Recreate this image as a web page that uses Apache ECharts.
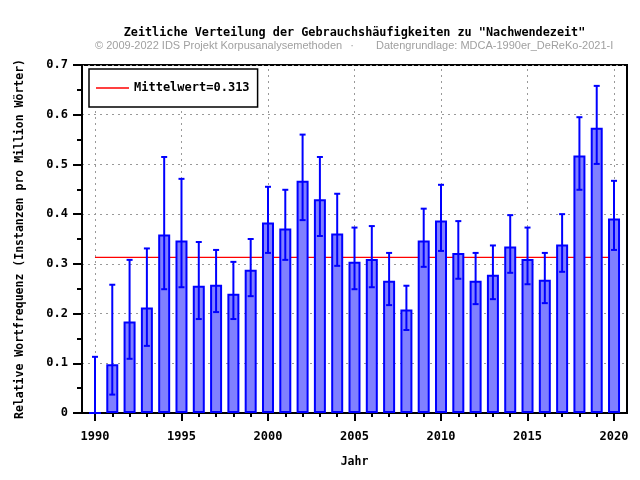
<!DOCTYPE html>
<html><head><meta charset="utf-8">
<script src="https://cdn.jsdelivr.net/npm/echarts@6/dist/echarts.min.js"></script>
<style>html,body{margin:0;padding:0;background:#fff}#c{width:640px;height:480px}</style>
</head><body><div id="c"></div>
<script>
const years = [1990,1991,1992,1993,1994,1995,1996,1997,1998,1999,2000,2001,2002,2003,2004,2005,2006,2007,2008,2009,2010,2011,2012,2013,2014,2015,2016,2017,2018,2019,2020];
const values = [0,0.098,0.184,0.212,0.359,0.347,0.256,0.258,0.240,0.288,0.383,0.371,0.467,0.430,0.361,0.304,0.310,0.266,0.208,0.347,0.387,0.322,0.266,0.278,0.335,0.310,0.268,0.339,0.518,0.574,0.391];
const upper = [0.113,0.258,0.308,0.331,0.515,0.471,0.344,0.328,0.304,0.350,0.455,0.449,0.560,0.515,0.441,0.373,0.376,0.322,0.256,0.411,0.459,0.386,0.322,0.337,0.398,0.373,0.322,0.400,0.595,0.658,0.467];
const lower = [0,0.037,0.109,0.135,0.249,0.253,0.189,0.203,0.189,0.235,0.322,0.308,0.388,0.356,0.296,0.249,0.253,0.217,0.167,0.294,0.326,0.270,0.219,0.229,0.282,0.259,0.221,0.284,0.449,0.501,0.328];
const meanValue = 0.313;
const majorYears = [1990,1995,2000,2005,2010,2015,2020];

const mono = '"DejaVu Sans Mono", monospace';
const chart = echarts.init(document.getElementById('c'));
const barData = years.map((y,i)=>[y, values[i]]);
const errData = years.map((y,i)=>[y, lower[i], upper[i]]);

chart.setOption({
  animation: false,
  backgroundColor: '#fff',
  grid: {left: 82, right: 13, top: 65, bottom: 67, show: true, borderColor: '#000', borderWidth: 2},
  graphic: [
    {type:'text', x: 354.5, y: 33, style:{text:'Zeitliche Verteilung der Gebrauchshäufigkeiten zu "Nachwendezeit"', font:'bold 11.8px '+mono, fill:'#000', textAlign:'center', textVerticalAlign:'middle'}},
    {type:'text', x: 95, y: 46, style:{text:'© 2009-2022 IDS Projekt Korpusanalysemethoden', font:'11px "Liberation Sans", Arial, sans-serif', fill:'#a0a0a0', textAlign:'left', textVerticalAlign:'middle'}},
    {type:'text', x: 352, y: 46, style:{text:'·', font:'11px "Liberation Sans", Arial, sans-serif', fill:'#a0a0a0', textAlign:'center', textVerticalAlign:'middle'}},
    {type:'text', x: 376, y: 46, style:{text:'Datengrundlage: MDCA-1990er_DeReKo-2021-I', font:'11px "Liberation Sans", Arial, sans-serif', fill:'#a0a0a0', textAlign:'left', textVerticalAlign:'middle'}}
  ],
  legend: {
    left: 89, top: 69, orient: 'vertical',
    padding: [13, 8, 13, 7],
    borderColor: '#000', borderWidth: 1.5, backgroundColor: '#fff',
    itemWidth: 33, itemHeight: 1.5, icon: 'rect',
    textStyle: {fontFamily: mono, fontWeight: 'bold', fontSize: 12, color: '#000'},
    data: [{name: 'Mittelwert=0.313', itemStyle: {color: '#ff0000'}}]
  },
  xAxis: [{
    type: 'value', min: 1989.25, max: 2020.75,
    name: 'Jahr', nameLocation: 'middle', nameGap: 43,
    nameTextStyle: {fontFamily: mono, fontWeight: 'bold', fontSize: 11.5, color: '#000'},
    axisLine: {show: true, onZero: false, lineStyle: {color: '#000', width: 2}},
    axisTick: {show: true, customValues: majorYears, length: 8, lineStyle: {color: '#000', width: 2}},
    axisLabel: {customValues: majorYears, margin: 18, fontFamily: mono, fontWeight: 'bold', fontSize: 12, color: '#000', formatter: v => String(v)},
    splitLine: {show: false}
  },{
    type: 'value', min: 1989.25, max: 2020.75, position: 'bottom',
    axisLine: {show: false},
    axisTick: {show: true, customValues: years, length: 4, lineStyle: {color: '#000', width: 2}},
    axisLabel: {show: false},
    splitLine: {show: false}
  }],
  yAxis: {
    type: 'value', min: 0, max: 0.7, interval: 0.1,
    name: 'Relative Wortfrequenz (Instanzen pro Million Wörter)', nameLocation: 'middle', nameGap: 56,
    nameTextStyle: {fontFamily: mono, fontWeight: 'bold', fontSize: 11.5, color: '#000'},
    axisLine: {show: true, lineStyle: {color: '#000', width: 2}},
    axisTick: {show: true, length: 9, lineStyle: {color: '#000', width: 2}},
    minorTick: {show: true, splitNumber: 2, length: 5, lineStyle: {color: '#000', width: 2}},
    axisLabel: {margin: 14, fontFamily: mono, fontWeight: 'bold', fontSize: 12, color: '#000', formatter: v => String(Math.round(v*10)/10)},
    splitLine: {show: true, lineStyle: {color: '#999', type: [2, 4], width: 1}}
  },
  series: [
    {
      name: 'Mittelwert=0.313', type: 'line', z: 1, symbol: 'none',
      data: [[1990, meanValue], [2020, meanValue]],
      lineStyle: {color: '#ff0000', width: 1.2}, itemStyle: {color: '#ff0000'},
      markLine: {
        z: 0, silent: true, symbol: 'none', label: {show: false},
        lineStyle: {color: '#999', type: [2, 4], width: 1},
        data: majorYears.map(y => ({xAxis: y}))
      }
    },
    {
      name: 'bars', type: 'bar', z: 2, data: barData, barWidth: 12,
      itemStyle: {color: '#8080ff', borderColor: '#0000ff', borderWidth: 2}
    },
    {
      name: 'err', type: 'custom', z: 3, data: errData,
      renderItem: function(params, api) {
        const x = api.value(0);
        const lo = api.coord([x, api.value(1)]);
        const hi = api.coord([x, api.value(2)]);
        const hw = 3;
        const st = {stroke: '#0000ff', lineWidth: 2};
        return {type: 'group', children: [
          {type: 'line', shape: {x1: lo[0], y1: lo[1], x2: hi[0], y2: hi[1]}, style: st},
          {type: 'line', shape: {x1: hi[0]-hw, y1: hi[1], x2: hi[0]+hw, y2: hi[1]}, style: st},
          {type: 'line', shape: {x1: lo[0]-hw, y1: lo[1], x2: lo[0]+hw, y2: lo[1]}, style: st}
        ]};
      }
    }
  ]
});
</script></body></html>
